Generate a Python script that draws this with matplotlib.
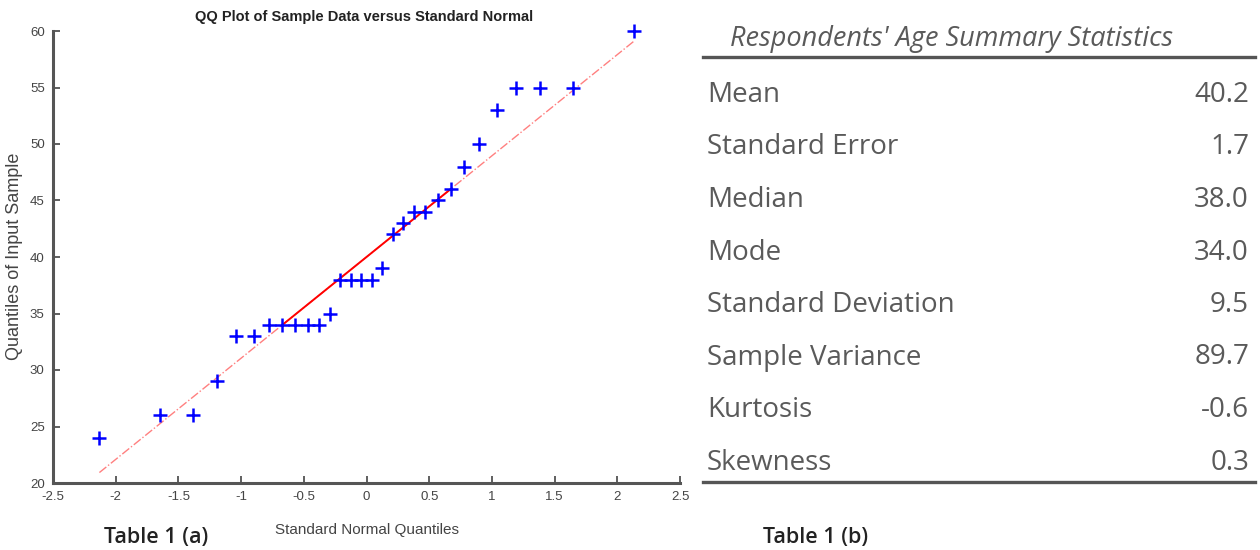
import matplotlib
matplotlib.use("Agg")
import matplotlib.pyplot as plt

# QQ plot data (standard normal quantile, sample age)
normal_q = [-2.13, -1.65, -1.38, -1.19, -1.04, -0.90, -0.78, -0.67, -0.57, -0.47,
            -0.38, -0.29, -0.21, -0.12, -0.04, 0.04, 0.12, 0.21, 0.29, 0.38,
            0.47, 0.57, 0.67, 0.78, 0.90, 1.04, 1.19, 1.38, 1.65, 2.13]
sample_q = [24, 26, 26, 29, 33, 33, 34, 34, 34, 34,
            34, 35, 38, 38, 38, 38, 39, 42, 43, 44,
            44, 45, 46, 48, 50, 53, 55, 55, 55, 60]

# quartile points the reference line goes through
quart_x = [-0.67, 0.67]
quart_y = [34, 46]

x_ticks = [-2.5, -2, -1.5, -1, -0.5, 0, 0.5, 1, 1.5, 2, 2.5]
x_tick_labels = ["-2.5", "-2", "-1.5", "-1", "-0.5", "0", "0.5", "1", "1.5", "2", "2.5"]
y_ticks = [20, 25, 30, 35, 40, 45, 50, 55, 60]

# summary table
stat_names = ["Mean", "Standard Error", "Median", "Mode", "Standard Deviation",
              "Sample Variance", "Kurtosis", "Skewness"]
stat_values = ["40.2", "1.7", "38.0", "34.0", "9.5", "89.7", "-0.6", "0.3"]

W, H = 1260, 550
narrow = ["Liberation Sans", "DejaVu Sans"]
table_font = ["Open Sans", "DejaVu Sans"]
gray = "#5a5a5a"

fig = plt.figure(figsize=(W / 100, H / 100), dpi=100)

ax = fig.add_axes([53 / W, 1 - 483 / H, (680 - 53) / W, (483 - 31) / H])
ax.plot(normal_q, sample_q, "+", color="blue", markersize=10, markeredgewidth=1.8,
        zorder=3, clip_on=False)

slope = (quart_y[1] - quart_y[0]) / (quart_x[1] - quart_x[0])
ext_x = [min(normal_q), max(normal_q)]
ext_y = [quart_y[0] + slope * (v - quart_x[0]) for v in ext_x]
ax.plot(ext_x, ext_y, linestyle="-.", color="#ff6060", linewidth=1.0, alpha=0.8)
ax.plot(quart_x, quart_y, "-", color="red", linewidth=1.4)

ax.set_xlim(-2.5, 2.5)
ax.set_ylim(20, 60)
ax.set_xticks(x_ticks)
ax.set_xticklabels(x_tick_labels, family=narrow, fontsize=9.5)
ax.set_yticks(y_ticks)
ax.set_yticklabels([str(v) for v in y_ticks], family=narrow, fontsize=9.5)
ax.tick_params(direction="in", length=5, width=1.2, colors="#444444", pad=6)
for side in ["top", "right"]:
    ax.spines[side].set_visible(False)
for side in ["left", "bottom"]:
    ax.spines[side].set_color("#555555")
    ax.spines[side].set_linewidth(2.2)

fig.text(364 / W, 1 - 17 / H, "QQ Plot of Sample Data versus Standard Normal",
         family=narrow, fontsize=10.5, weight="bold", ha="center", va="center", color="#222222")
fig.text(367 / W, 1 - 530 / H, "Standard Normal Quantiles",
         family=narrow, fontsize=11, ha="center", va="center", color="#444444")
fig.text(15 / W, 1 - 256 / H, "Quantiles of Input Sample", rotation=90,
         family=narrow, fontsize=13, ha="center", va="center", color="#444444")
fig.text(156 / W, 1 - 537 / H, "Table 1 (a)", family=table_font, fontsize=15.5,
         weight="semibold", ha="center", va="center", color="#222222")

# table panel
fig.text(952 / W, 1 - 39 / H, "Respondents' Age Summary Statistics", family=table_font,
         style="italic", fontsize=19.5, ha="center", va="center", color=gray)
fig.add_artist(plt.Line2D([703 / W, 1255 / W], [1 - 57 / H, 1 - 57 / H],
                          color="#555555", linewidth=2.4))
fig.add_artist(plt.Line2D([703 / W, 1255 / W], [1 - 482 / H, 1 - 482 / H],
                          color="#555555", linewidth=2.4))
row_y0, row_step = 95, 52.5
for i, (name, val) in enumerate(zip(stat_names, stat_values)):
    y = 1 - (row_y0 + i * row_step) / H
    fig.text(707 / W, y, name, family=table_font, fontsize=20, ha="left", va="center", color=gray)
    fig.text(1249 / W, y, val, family=table_font, fontsize=20, ha="right", va="center", color=gray)

fig.text(816 / W, 1 - 537 / H, "Table 1 (b)", family=table_font, fontsize=15.5,
         weight="semibold", ha="center", va="center", color="#222222")

fig.savefig("out.png", dpi=100)
